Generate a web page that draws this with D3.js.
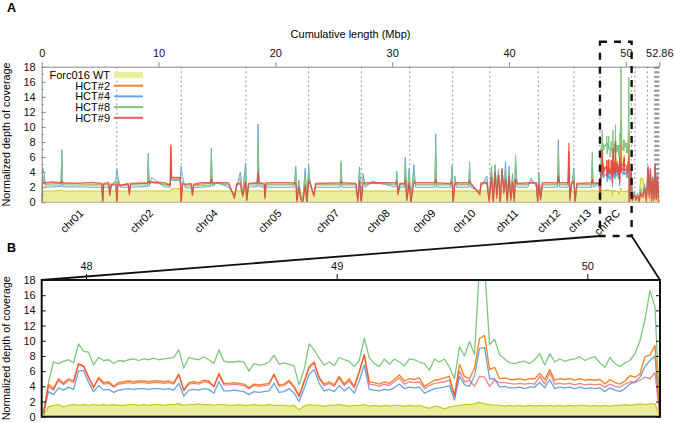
<!DOCTYPE html>
<html><head><meta charset="utf-8">
<script src="https://cdn.jsdelivr.net/npm/d3@7"></script>
<style>body{margin:0;background:#fff}svg{display:block}</style>
</head><body><svg id="chart" width="675" height="423"></svg>
<script>
// ---------------- DATA ----------------
const seriesNames = ["Forc016 WT","HCT#2","HCT#4","HCT#8","HCT#9"];
const chromNames = ["chr01","chr02","chr04","chr05","chr07","chr08","chr09","chr10","chr11","chr12","chr13","chrRC"];
const chromBounds = [0,6.43,11.94,17.48,22.85,27.36,31.5,35.18,38.36,42.5,45.55,47.78,50.49];
const extraBounds = [50.78,51.84,52.47,52.53,52.59,52.65,52.71,52.77,52.83];
const xTicksA = [0,10,20,30,40,50,52.86];
const xTicksB = [48,49,50];
const yTicks = [0,2,4,6,8,10,12,14,16,18];
const totalLength = 52.86;
const zoomDomain = [47.823,50.29];
const zoomStart = 47.83, zoomStep = 0.02;

// Panel B (zoom on chrRC), one value per 20 kb window
const wtB = [0.2,1.3,1.5,1.6,1.3,1.5,1.6,1.5,1.6,1.5, 1.6,1.5,1.6,1.5,1.6,1.5,1.5,1.6,1.6,1.5, 1.6,1.5,1.6,1.6,1.5,1.6,1.6,1.7,1.5,1.6, 1.6,1.7,1.6,1.6,1.5,1.6,1.6,1.5,1.5,1.6, 1.5,1.5,1.6,1.5,1.5,1.6,1.5,1.5,1.5,1.4, 1.5,0.9,1.4,1.6,1.5,1.5,1.4,1.5,1.5,1.6, 1.5,1.4,1.5,1.5,1.6,1.4,1.5,1.4,1.5,1.4, 1.5,1.5,1.4,1.5,1.4,1.5,1.3,1.1,1.4,1.3, 1.0,1.3,1.4,1.5,1.6,1.6,1.7,1.9,1.7,1.6, 1.5,1.5,1.4,1.5,1.4,1.5,1.4,1.5,1.4,1.5, 1.4,1.5,1.4,1.5,1.4,1.5,1.4,1.5,1.5,1.4, 1.5,1.4,1.5,1.4,1.5,1.5,1.6,1.5,1.6,1.7, 1.6,1.7,1.7,0];
const hct2B = [0.5,4.3,3.7,5.0,4.4,5.0,4.7,7.0,6.7,5.3, 3.9,5.2,4.5,4.6,4.0,4.5,4.6,4.7,4.6,4.7, 4.7,4.6,4.7,4.7,4.6,4.7,4.5,5.6,3.5,4.5, 4.6,4.5,4.8,4.7,4.0,5.7,4.4,4.4,4.5,4.4, 4.3,3.8,4.3,4.2,4.3,4.4,5.6,4.2,4.3,4.8, 4.0,2.8,4.7,6.6,7.2,5.2,4.3,4.6,4.2,5.3, 4.3,5.0,4.0,6.0,8.2,4.6,4.5,4.3,4.6,4.4, 4.9,5.5,4.7,5.0,4.9,5.1,4.0,4.4,4.8,4.9, 5.1,5.3,2.8,6.9,5.3,5.0,6.4,10.3,10.7,6.2, 6.5,5.0,5.1,4.9,4.9,5.0,4.8,5.0,5.0,5.7, 4.9,6.2,4.8,5.0,4.9,5.0,4.8,5.0,4.8,4.9, 4.8,4.9,4.3,4.9,4.5,4.3,4.7,5.4,5.2,5.6, 7.9,8.1,9.4,0];
const hct4B = [0.3,3.3,2.9,3.8,3.5,3.9,3.6,6.0,6.1,4.5, 3.3,4.1,3.5,3.6,3.2,3.5,3.6,3.7,3.6,3.7, 3.7,3.6,3.7,3.7,3.6,3.7,3.5,4.4,2.7,3.5, 3.6,3.5,3.7,3.6,3.1,4.6,3.4,3.4,3.5,3.4, 3.3,2.9,3.3,3.2,3.3,3.4,4.4,3.2,3.3,3.7, 3.1,2.0,3.7,5.6,6.2,4.4,3.4,3.6,3.3,4.1, 3.4,3.9,3.1,4.7,6.8,3.6,3.5,3.4,3.6,3.5, 3.8,4.3,3.7,3.9,3.8,3.9,3.1,3.4,3.7,3.8, 3.9,4.1,2.2,5.3,4.2,4.0,5.4,9.0,9.1,5.0, 5.0,3.9,4.0,3.8,3.8,3.9,3.7,3.9,3.9,4.5, 3.8,4.9,3.7,3.9,3.8,3.9,3.7,3.9,3.7,3.8, 3.7,3.8,3.3,3.8,3.5,3.3,3.7,4.3,4.6,5.2, 6.6,7.4,8.0,0];
const hct8B = [0.5,4.5,7.2,7.0,7.3,7.5,7.1,9.6,8.6,8.5, 6.8,7.8,7.4,7.5,7.0,7.4,7.3,7.5,7.6,7.4, 7.6,7.5,7.7,7.5,7.6,7.7,7.8,8.8,6.4,7.8, 7.6,7.5,7.9,7.5,7.0,8.8,7.3,7.2,7.2,7.3, 7.2,6.0,7.0,6.8,6.9,7.2,8.1,6.9,7.1,6.9, 6.7,4.2,6.2,9.6,8.8,7.7,6.8,7.2,6.7,7.8, 7.5,7.3,6.6,7.4,10.3,7.8,7.0,6.6,7.6,6.9, 7.6,7.2,6.7,7.6,7.5,7.2,7.0,6.1,7.6,7.2, 7.6,6.5,5.0,9.2,8.0,9.9,8.2,20,20,9.5, 10.2,8.2,7.6,7.1,7.0,7.2,7.3,7.0,7.5,8.3, 6.8,8.3,7.2,7.6,7.3,7.5,7.6,7.9,7.4,7.7, 7.9,7.1,6.5,7.8,7.0,6.6,7.1,7.4,8.3,10.0, 12.8,16.6,14.5,0];
const hct9B = [0.4,4.0,3.5,4.8,4.2,4.8,4.5,6.9,6.6,5.1, 3.8,5.0,4.3,4.4,3.9,4.3,4.4,4.5,4.4,4.5, 4.5,4.4,4.5,4.5,4.4,4.5,4.3,5.5,3.4,4.3, 4.4,4.3,4.6,4.5,3.9,5.6,4.2,4.2,4.3,4.2, 4.1,3.7,4.1,4.0,4.1,4.2,5.5,4.0,4.1,4.6, 3.8,2.6,4.5,6.4,7.1,5.0,4.1,4.4,4.0,5.1, 4.1,4.7,3.8,5.8,8.1,4.3,4.2,4.0,4.3,4.1, 4.6,5.1,4.3,4.6,4.5,4.6,3.7,4.1,4.4,4.5, 4.6,4.8,2.7,6.0,4.6,4.8,4.0,5.3,5.2,4.0, 4.8,4.5,4.5,4.4,4.3,4.4,4.3,4.4,4.3,5.3, 4.3,5.8,4.3,4.4,4.3,4.4,4.2,4.4,4.2,4.3, 4.2,4.3,3.9,4.3,4.0,3.9,4.3,4.6,4.5,4.8, 5.2,5.0,5.8,0];

// Panel A (genome-wide, outside the chrRC zoom), positions in Mbp
const posA = [0,0.08,0.2,0.35,0.9,1.65,1.72,1.8,3.0,4.3, 5.15,5.22,5.3,5.75,5.82,5.95,6.35,6.43,6.52,6.7, 7.4,7.5,7.6,9.05,9.12,9.2,9.4,10.5,11.0,11.05, 11.12,11.85,11.94,12.05,12.3,12.8,12.9,13.0,13.6,14.45, 14.52,14.6,15.0,16.0,16.5,16.7,17.0,17.2,17.45,17.55, 17.7,18.45,18.52,18.6,19.05,19.1,19.2,21.6,21.75,21.85, 22.0,22.2,22.35,22.55,22.7,22.85,23.0,23.3,23.45,25.55, 25.62,25.7,26.9,27.05,27.2,27.35,27.5,27.7,28.3,30.3, 30.4,30.5,30.65,31.05,31.12,31.25,31.45,31.6,31.85,32.0, 33.65,33.72,33.8,35.0,35.12,35.22,35.35,35.5,36.55,36.62, 36.7,37.5,37.6,38.1,38.3,38.5,38.65,38.8,38.95,39.1, 39.25,39.4,39.55,39.7,39.85,40.0,40.15,40.3,40.45,40.55, 40.7,41.6,41.9,42.35,42.45,42.55,42.7,42.85,44.15,44.22, 44.3,45.05,45.12,45.2,45.35,45.55,45.65,45.8,47.05,47.12, 47.2,47.7,50.45,50.55,50.7,50.85,51.0,51.15,51.25,51.45, 51.6,51.75,51.9,52.0,52.1,52.2,52.3,52.4,52.5,52.6, 52.7,52.8,52.86];
const wtA = [0,1.5,1.5,1.5,1.5,1.55,1.6,1.5,1.5,1.5, 1.5,1.4,1.5,1.5,1.3,1.5,1.5,1.2,1.5,1.5, 1.5,1.4,1.5,1.5,1.6,1.5,1.5,1.5,1.5,1.6, 1.8,1.8,0.5,1.5,1.5,1.5,1.4,1.5,1.5,1.5, 1.6,1.5,1.5,1.5,1.4,1.5,1.5,1.4,1.5,0.8, 1.5,1.5,1.6,1.5,1.5,1.4,1.5,1.5,1.4,1.0, 1.5,1.3,1.2,1.4,1.2,1.5,1.5,1.4,1.5,1.5, 1.6,1.5,1.5,1.3,1.5,1.0,1.5,1.5,1.5,1.5, 1.5,1.4,1.5,1.5,1.6,1.3,1.4,1.1,1.5,1.5, 1.5,1.6,1.5,1.5,1.4,1.0,1.5,1.5,1.5,1.6, 1.5,1.4,1.5,1.5,1.1,1.5,1.3,1.5,1.4,1.5, 1.2,1.5,1.4,1.5,1.3,1.5,1.3,1.5,1.3,1.6, 1.5,1.5,1.5,1.5,1.1,1.5,1.3,1.5,1.5,1.6, 1.5,1.5,1.6,1.2,1.5,1.4,1.0,1.5,1.5,1.6, 1.5,1.5,0.5,0.4,0.3,0.3,0.3,0.4,3.2,3.2, 2.0,1.8,1.8,1.5,1.5,1.2,1.5,1.0,1.2,0.8, 1.0,0.5,0];
const hct2A = [0,3.0,2.5,2.4,2.45,2.5,3.2,2.45,2.45,2.4, 2.4,0.2,2.4,2.4,1.0,2.4,2.6,0.2,2.8,2.3, 2.4,1.2,2.4,2.5,3.4,2.5,2.6,2.4,2.3,7.4, 3.2,3.2,0,2.6,2.3,2.3,1.0,2.3,2.4,2.5, 3.5,2.5,2.5,2.4,0.8,2.4,2.7,1.0,3.0,0.3, 2.4,2.5,4.5,2.5,2.4,0.7,2.4,2.4,3.0,0.3, 2.3,0.5,0.2,2.6,0.1,3.2,2.4,1.0,2.4,2.4, 3.0,2.4,2.4,0.5,3.0,0.2,2.7,2.4,2.5,2.4, 2.8,1.2,2.4,2.4,3.5,0.5,2.8,0.1,3.0,2.4, 2.4,3.8,2.4,2.4,3.0,0.1,2.6,2.4,2.4,3.0, 2.4,1.3,2.4,2.5,0.4,3.5,0.2,4.2,1.0,3.8, 0.1,4.3,1.5,3.2,0.3,3.7,0.6,2.8,0.5,3.2, 2.4,2.4,2.6,2.4,0.2,2.8,0.6,2.4,2.4,4.0, 2.4,2.4,6.8,0.5,2.4,3.0,0.2,2.4,2.4,3.5, 2.4,2.6,3.0,0.3,1.2,0.4,1.0,0.2,1.5,0.8, 2.0,0.3,3.5,1.0,3.8,0.3,2.8,0.5,4.0,0.5, 3.0,0.2,0];
const hct4A = [0,4.6,3.8,2.0,2.05,2.1,7.0,2.05,2.05,2.0, 2.0,0.3,2.0,2.0,1.2,2.0,3.0,4.4,3.5,2.0, 2.0,1.3,2.0,2.1,6.5,2.1,3.3,2.05,2.0,4.0, 2.9,2.9,4.8,3.4,1.9,1.9,1.2,2.0,2.0,2.1, 7.2,2.1,2.6,2.0,1.0,2.0,4.0,1.2,5.2,0.5, 2.0,2.1,10.4,2.1,2.0,0.9,2.0,2.0,4.8,0.4, 3.0,0.6,0.3,4.5,0.2,4.9,2.0,1.2,2.0,2.0, 5.2,2.0,2.0,0.6,4.7,0.3,3.8,2.0,2.8,2.0, 4.1,1.3,2.0,2.0,6.0,0.6,4.5,0.2,5.0,2.0, 2.0,9.1,2.0,2.0,4.9,0.2,3.5,2.0,2.0,4.6, 2.0,1.5,2.0,3.5,0.5,4.8,0.3,5.0,1.2,4.4, 0.2,4.0,1.8,5.4,0.5,4.8,0.8,3.8,0.6,5.0, 2.0,2.0,3.2,2.0,0.3,4.0,0.8,2.0,2.0,8.3, 2.0,2.0,4.5,0.6,2.0,4.5,0.3,2.0,2.0,5.5, 2.0,2.4,4.0,0.4,1.4,0.5,1.2,0.3,1.8,1.0, 2.4,0.4,4.5,1.2,4.4,0.5,3.4,0.6,5.0,0.8, 3.6,0.4,0];
const hct8A = [0,3.7,3.0,2.3,2.3,2.3,6.6,2.3,2.3,2.25, 2.3,0.2,2.3,2.3,1.0,2.3,2.8,1.0,3.2,2.2, 2.3,1.2,2.3,2.3,6.0,2.3,2.7,2.3,2.2,5.0, 3.0,3.0,1.0,2.8,2.1,2.2,1.1,2.2,2.2,2.3, 6.5,2.3,2.5,2.3,0.8,2.3,3.2,1.0,4.5,0.4, 2.3,2.3,8.3,2.3,2.3,0.7,2.3,2.3,4.0,0.3, 2.6,0.5,0.2,3.6,0.1,4.2,2.3,1.0,2.3,2.3, 5.5,2.3,2.3,0.5,4.0,0.2,3.2,2.3,2.6,2.3, 3.5,1.2,2.3,2.3,5.2,0.5,3.8,0.1,4.0,2.3, 2.3,7.3,2.3,2.3,4.2,0.1,3.0,2.3,2.3,5.4, 2.3,1.3,2.3,3.0,0.4,4.5,0.3,4.8,1.0,4.2, 0.1,4.5,1.5,4.2,0.3,4.0,0.6,3.3,0.5,6.3, 2.3,2.3,2.9,2.3,0.2,3.5,0.6,2.3,2.3,7.0, 2.3,2.3,5.0,0.5,2.3,4.0,0.2,2.3,2.3,6.7, 2.3,2.5,3.5,0.3,1.2,0.4,1.0,0.2,1.6,0.8, 2.2,0.3,4.0,1.0,4.2,0.3,3.0,0.5,4.5,0.6, 3.2,0.2,0];
const hct9A = [0,2.6,2.5,2.6,2.7,2.6,2.8,2.6,2.55,2.65, 2.5,0,2.5,2.6,0.9,2.4,2.3,0,2.4,2.2, 2.5,1.0,2.5,2.6,2.8,2.6,2.7,2.6,2.3,7.6, 3.3,3.3,0,2.4,2.4,2.5,0.9,2.4,2.6,2.6, 3.0,2.6,2.6,2.6,0.5,2.5,2.4,0.8,2.6,0.2, 2.5,2.6,4.0,2.6,2.5,0.5,2.6,2.6,2.5,0, 2.0,0.2,0,2.2,0,2.8,2.5,0.8,2.5,2.6, 2.8,2.6,2.5,0.1,2.7,0,2.4,2.6,2.6,2.6, 2.7,1.0,2.5,2.5,2.9,0.2,2.5,0,2.6,2.6, 2.6,3.0,2.6,2.5,2.7,0,2.3,2.6,2.6,2.8, 2.6,1.0,2.6,2.6,0.1,3.3,0,4.0,0.5,3.6, 0,4.4,1.2,3.0,0,3.5,0.2,2.6,0.1,3.0, 2.5,2.6,2.6,2.6,0,2.5,0.3,2.6,2.6,3.5, 2.6,2.6,7.8,0.2,2.5,2.8,0,2.5,2.6,3.0, 2.6,2.5,4.5,0.2,1.0,0.3,0.8,0.1,1.2,0.6, 1.8,0.1,4.8,0.6,4.5,0.1,3.2,0.2,5.0,0.3, 3.5,0,0];

// ---------------- STYLE ----------------
const FONT = '"Liberation Sans", Arial, Helvetica, sans-serif';
const colors = {wtFill:"#ecee9f", wtLine:"#c9ca25", hct2:"#f5821f", hct4:"#6aa3d9", hct8:"#80c680", hct9:"#e8303c"};

const svg = d3.select("#chart").style("font-family", FONT);

const xA = d3.scaleLinear().domain([0,totalLength]).range([41.7,659.3]);
const yA = d3.scaleLinear().domain([0,18]).range([202.3,66.7]);
const xB = d3.scaleLinear().domain(zoomDomain).range([41.7,660]);
const yB = d3.scaleLinear().domain([0,18]).range([416.7,280]);

const posB = wtB.map((v,i)=> +(zoomStart + i*zoomStep).toFixed(3));
function seriesB(vals){ return vals.map((v,i)=>({x:posB[i], y:v})); }
function seriesA(valsA, valsB){
  return posA.map((p,i)=>({x:p,y:valsA[i]})).concat(seriesB(valsB)).sort((a,b)=>a.x-b.x);
}

const defs = svg.append("defs");
defs.append("clipPath").attr("id","clipA").append("rect")
  .attr("x",xA.range()[0]).attr("y",yA.range()[1]).attr("width",xA.range()[1]-xA.range()[0]).attr("height",yA.range()[0]-yA.range()[1]);
defs.append("clipPath").attr("id","clipB").append("rect")
  .attr("x",xB.range()[0]).attr("y",yB.range()[1]).attr("width",xB.range()[1]-xB.range()[0]).attr("height",yB.range()[0]-yB.range()[1]);

// ---------------- PANEL A ----------------
svg.append("text").attr("x",7).attr("y",12).attr("font-weight","bold").attr("font-size",12.5).text("A");
svg.append("text").attr("x",(xA.range()[0]+xA.range()[1])/2).attr("y",38).attr("text-anchor","middle").attr("font-size",11).text("Cumulative length (Mbp)");

const gA = svg.append("g");
const allBounds = chromBounds.slice(1).concat(extraBounds);
gA.selectAll("line.bd").data(allBounds).join("line")
  .attr("x1",d=>xA(d)).attr("x2",d=>xA(d)).attr("y1",yA(18)).attr("y2",yA(0))
  .attr("stroke","#8a8a8a").attr("stroke-width",0.9).attr("stroke-dasharray","2,2.6");

const plotA = gA.append("g").attr("clip-path","url(#clipA)");
const lineA = d3.line().x(d=>xA(d.x)).y(d=>yA(d.y));
const areaA = d3.area().x(d=>xA(d.x)).y0(yA(0)).y1(d=>yA(d.y));
const wtAll = seriesA(wtA, wtB);
plotA.append("path").attr("d",areaA(wtAll)).attr("fill",colors.wtFill);
plotA.append("path").attr("d",lineA(wtAll)).attr("fill","none").attr("stroke",colors.wtLine).attr("stroke-width",1);
const orderA = [[hct4A,hct4B,colors.hct4,1,1],[hct2A,hct2B,colors.hct2,1,1],[hct8A,hct8B,colors.hct8,1,1],[hct9A,hct9B,colors.hct9,0.7,1.4]];
orderA.forEach(([a,b,c,o,w])=>{
  plotA.append("path").attr("d",lineA(seriesA(a,b))).attr("fill","none")
    .attr("stroke",c).attr("stroke-opacity",o).attr("stroke-width",w).attr("stroke-linejoin","round");
});

// axes A
const axTopA = d3.axisTop(xA).tickValues(xTicksA).tickFormat(d=>String(d)).tickSizeInner(4.5).tickSizeOuter(0).tickPadding(5);
const gTopA = svg.append("g").attr("transform",`translate(0,${yA(18)})`).call(axTopA);
gTopA.select(".domain").attr("stroke","#888");
gTopA.selectAll(".tick line").attr("stroke","#888");
gTopA.selectAll("text").attr("font-size",11).attr("font-family",FONT).attr("fill","#111");

const axLeftA = d3.axisLeft(yA).tickValues(yTicks).tickSizeInner(-4).tickSizeOuter(0).tickPadding(6);
const gLeftA = svg.append("g").attr("transform",`translate(${xA.range()[0]},0)`).call(axLeftA);
gLeftA.select(".domain").attr("stroke","#888");
gLeftA.selectAll(".tick line").attr("stroke","#888");
gLeftA.selectAll("text").attr("font-size",11).attr("font-family",FONT).attr("fill","#111");
gLeftA.selectAll("line.minor").data(d3.range(1,18,2)).join("line").attr("class","minor")
  .attr("x1",0).attr("x2",2).attr("y1",d=>yA(d)).attr("y2",d=>yA(d)).attr("stroke","#888");
svg.append("line").attr("x1",xA.range()[0]).attr("x2",xA.range()[1]).attr("y1",yA(0)).attr("y2",yA(0)).attr("stroke","#999").attr("stroke-width",0.8);

svg.append("text").attr("transform",`translate(10,${(yA(0)+yA(18))/2}) rotate(-90)`)
  .attr("text-anchor","middle").attr("font-size",10.8).text("Normalized depth of coverage");

// chromosome labels
const centers = chromNames.map((n,i)=>({n, c:(chromBounds[i]+chromBounds[i+1])/2}));
svg.selectAll("text.chr").data(centers).join("text").attr("class","chr")
  .attr("transform",d=>`translate(${xA(d.c)+5},214) rotate(-45)`)
  .attr("text-anchor","end").attr("font-size",11).text(d=>d.n);

// legend
const legY = [75,85.7,96.4,107.1,117.8];
const legCols = [colors.wtFill,colors.hct2,colors.hct4,colors.hct8,colors.hct9];
const leg = svg.append("g");
seriesNames.forEach((n,i)=>{
  leg.append("text").attr("x",110).attr("y",legY[i]).attr("dy","0.35em").attr("text-anchor","end").attr("font-size",11).text(n);
  if(i===0){
    leg.append("rect").attr("x",114).attr("y",legY[i]-3).attr("width",29).attr("height",6).attr("fill",colors.wtFill);
  } else {
    leg.append("line").attr("x1",114).attr("x2",143).attr("y1",legY[i]).attr("y2",legY[i])
      .attr("stroke",legCols[i]).attr("stroke-width",2).attr("stroke-opacity", i===4?0.8:1);
  }
});

// zoom box and connectors
const boxTop = 41.7, boxBottom = 236;
svg.append("rect").attr("x",xA(chromBounds[11])).attr("y",boxTop)
  .attr("width",xA(chromBounds[12])-xA(chromBounds[11])).attr("height",boxBottom-boxTop)
  .attr("fill","none").attr("stroke","#111").attr("stroke-width",2.4).attr("stroke-dasharray","7,7");
svg.append("line").attr("x1",xA(chromBounds[11])).attr("y1",boxBottom).attr("x2",xB.range()[0]).attr("y2",yB(18))
  .attr("stroke","#111").attr("stroke-width",1.8);
svg.append("line").attr("x1",xA(chromBounds[12])).attr("y1",boxBottom).attr("x2",xB.range()[1]).attr("y2",yB(18))
  .attr("stroke","#111").attr("stroke-width",1.8);

// ---------------- PANEL B ----------------
svg.append("text").attr("x",7).attr("y",252).attr("font-weight","bold").attr("font-size",12.5).text("B");
const plotB = svg.append("g").attr("clip-path","url(#clipB)");
const lineB = d3.line().x(d=>xB(d.x)).y(d=>yB(d.y));
const areaB = d3.area().x(d=>xB(d.x)).y0(yB(0)).y1(d=>yB(d.y));
plotB.append("path").attr("d",areaB(seriesB(wtB))).attr("fill",colors.wtFill);
plotB.append("path").attr("d",lineB(seriesB(wtB))).attr("fill","none").attr("stroke",colors.wtLine).attr("stroke-width",1.3);
[[hct4B,colors.hct4,1],[hct8B,colors.hct8,1],[hct2B,colors.hct2,1],[hct9B,colors.hct9,0.6]].forEach(([v,c,o])=>{
  plotB.append("path").attr("d",lineB(seriesB(v))).attr("fill","none").attr("stroke",c)
    .attr("stroke-opacity",o).attr("stroke-width",1.3).attr("stroke-linejoin","round");
});

const axTopB = d3.axisTop(xB).tickValues(xTicksB).tickFormat(d=>String(d)).tickSizeInner(6).tickSizeOuter(0).tickPadding(4);
const gTopB = svg.append("g").attr("transform",`translate(0,${yB(18)})`).call(axTopB);
gTopB.select(".domain").remove();
gTopB.selectAll(".tick line").attr("stroke","#111");
gTopB.selectAll("text").attr("font-size",11).attr("font-family",FONT).attr("fill","#111");

const gLeftB = svg.append("g").attr("transform",`translate(${xB.range()[0]},0)`)
  .call(d3.axisLeft(yB).tickValues(yTicks).tickSizeInner(-4).tickSizeOuter(0).tickPadding(6));
gLeftB.select(".domain").remove();
gLeftB.selectAll(".tick line").attr("stroke","#111");
gLeftB.selectAll("text").attr("font-size",11).attr("font-family",FONT).attr("fill","#111");
const gRightB = svg.append("g").attr("transform",`translate(${xB.range()[1]},0)`)
  .call(d3.axisRight(yB).tickValues(yTicks).tickSizeInner(-4).tickSizeOuter(0).tickFormat(""));
gRightB.select(".domain").remove();
gRightB.selectAll(".tick line").attr("stroke","#111");

svg.append("rect").attr("x",xB.range()[0]).attr("y",yB(18)).attr("width",xB.range()[1]-xB.range()[0])
  .attr("height",yB(0)-yB(18)).attr("fill","none").attr("stroke","#111").attr("stroke-width",2);

svg.append("text").attr("transform",`translate(10,${(yB(0)+yB(18))/2}) rotate(-90)`)
  .attr("text-anchor","middle").attr("font-size",10.8).text("Normalized depth of coverage");
</script>
</body></html>
